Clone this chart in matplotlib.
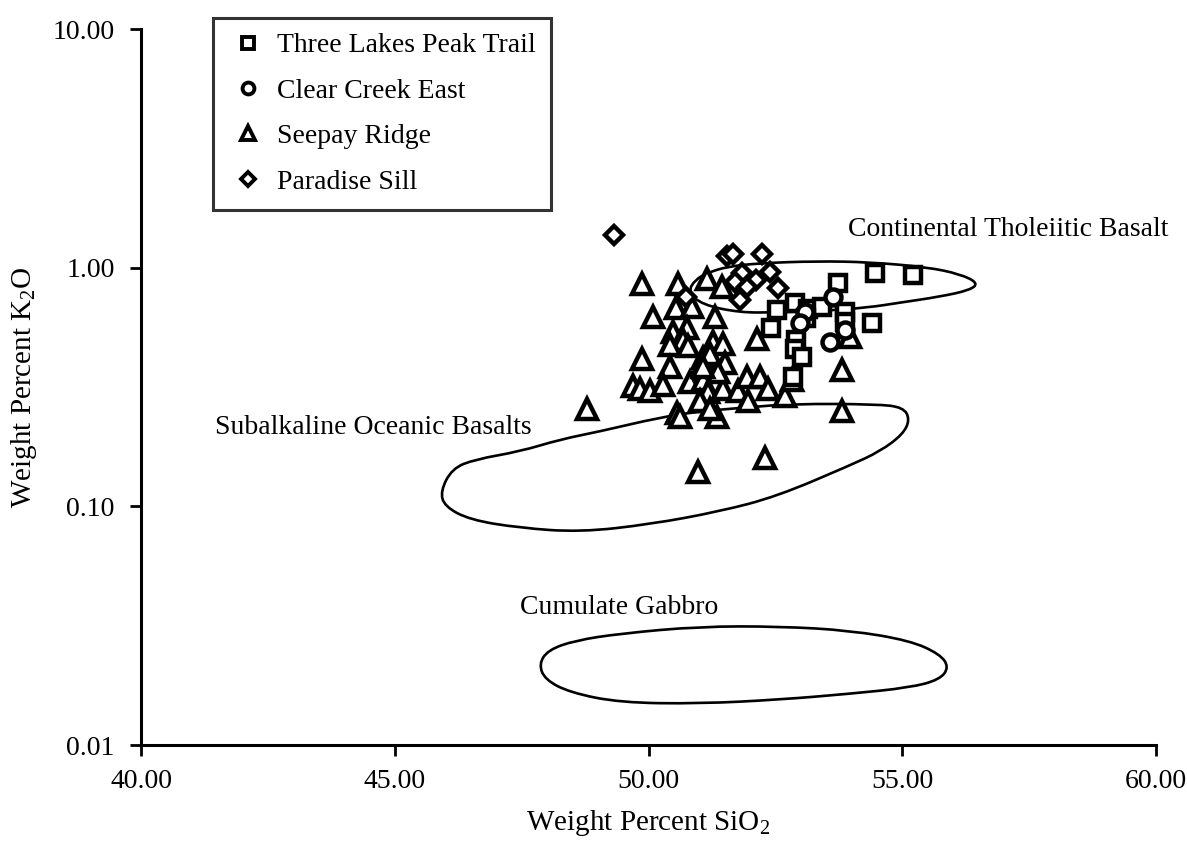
import numpy as np
import matplotlib
matplotlib.use("Agg")
import matplotlib.pyplot as plt
from matplotlib.lines import Line2D
from matplotlib.path import Path
from matplotlib.patches import PathPatch
from matplotlib.ticker import FixedLocator, FormatStrFormatter

plt.rcParams['font.family'] = ['Liberation Serif', 'DejaVu Serif']
plt.rcParams['mathtext.fontset'] = 'custom'
plt.rcParams['mathtext.rm'] = 'Liberation Serif'
plt.rcParams['mathtext.it'] = 'Liberation Serif:italic'

# SiO2 / K2O, weight percent
three_lakes_sio2 = [54.46, 55.21, 53.73, 52.89, 52.53, 53.14, 53.42, 53.87, 53.87, 54.40,
                    52.41, 53.10, 52.91, 52.89, 53.02, 52.85]
three_lakes_k2o = [0.953, 0.935, 0.866, 0.714, 0.667, 0.674, 0.687, 0.654, 0.595, 0.589,
                   0.561, 0.618, 0.500, 0.458, 0.424, 0.350]

clear_creek_sio2 = [53.58, 53.64, 53.08, 52.99, 53.87]
clear_creek_k2o = [0.490, 0.756, 0.654, 0.589, 0.550]

seepay_sio2 = [49.87, 50.58, 51.15, 51.45, 50.09, 50.54, 50.86, 51.31, 50.48, 50.76,
               50.68, 50.42, 50.78, 51.27, 51.47, 49.87, 51.07, 51.21, 51.51, 50.42,
               51.01, 49.69, 49.83, 50.03, 50.29, 50.82, 51.07, 51.17, 51.01, 51.47,
               51.76, 51.94, 52.20, 52.35, 51.96, 52.69, 52.83, 50.56, 50.62, 51.35,
               51.21, 48.79, 53.81, 53.81, 52.30, 50.98, 52.14, 53.97, 51.37, 51.07]
seepay_k2o = [0.857, 0.857, 0.899, 0.833, 0.624, 0.680, 0.687, 0.624, 0.540, 0.561,
              0.500, 0.476, 0.472, 0.490, 0.481, 0.416, 0.420, 0.433, 0.397, 0.385,
              0.374, 0.318, 0.309, 0.303, 0.324, 0.333, 0.340, 0.300, 0.275, 0.309,
              0.303, 0.347, 0.347, 0.309, 0.275, 0.289, 0.340, 0.247, 0.236, 0.236,
              0.255, 0.255, 0.374, 0.250, 0.160, 0.139, 0.504, 0.514, 0.367, 0.385]

paradise_sio2 = [49.32, 51.55, 51.67, 52.24, 51.84, 52.39, 52.55, 52.12, 51.70, 51.94,
                 50.74, 51.80]
paradise_k2o = [1.374, 1.122, 1.144, 1.144, 0.953, 0.962, 0.825, 0.891, 0.874, 0.833,
                0.756, 0.735]

# field outlines (SiO2, K2O)
cont_sio2 = [50.78, 50.92, 51.17, 51.55, 52.20, 53.32, 54.36, 55.49, 56.14, 56.50,
             56.33, 55.74, 54.96, 54.31, 53.38, 52.53, 51.80, 51.05]
cont_k2o = [0.794, 0.891, 0.953, 1.010, 1.045, 1.065, 1.055, 1.005, 0.940, 0.862,
            0.805, 0.756, 0.714, 0.680, 0.658, 0.650, 0.648, 0.700]

ocean_sio2 = [45.90, 46.13, 46.58, 47.47, 48.26, 49.04, 50.23, 51.01, 51.94, 52.85,
              54.50, 55.02, 55.15, 55.01, 54.56, 53.97, 52.53, 51.41, 50.03, 48.65,
              47.47, 46.48, 45.98]
ocean_k2o = [0.1156, 0.1440, 0.1573, 0.1699, 0.1907, 0.2060, 0.236, 0.250, 0.2598, 0.2690,
             0.2680, 0.2600, 0.2312, 0.2001, 0.1699, 0.1485, 0.1101, 0.0953, 0.0841, 0.0780,
             0.0812, 0.0878, 0.1000]

gabbro_sio2 = [47.84, 48.02, 48.55, 49.44, 51.01, 52.59, 53.97, 55.15, 55.74, 55.92,
               55.74, 55.15, 53.97, 52.59, 51.01, 49.44, 48.45, 47.96]
gabbro_k2o = [0.02183, 0.02500, 0.02740, 0.02930, 0.03140, 0.03140, 0.03020, 0.02740, 0.02403, 0.02121,
              0.01880, 0.01740, 0.01640, 0.01550, 0.01490, 0.01505, 0.01660, 0.01880]

y_ticks = [0.01, 0.1, 1, 10]
x_ticks = [40, 45, 50, 55, 60]


def smooth_outline(xs, ys):
    # closed quadratic bezier through the midpoints of the outline vertices
    pts = list(zip(xs, ys))
    n = len(pts)
    mids = [((pts[i][0] + pts[(i + 1) % n][0]) / 2, (pts[i][1] * pts[(i + 1) % n][1]) ** 0.5)
            for i in range(n)]
    verts = [mids[-1]]
    codes = [Path.MOVETO]
    for i in range(n):
        verts += [pts[i], mids[i]]
        codes += [Path.CURVE3, Path.CURVE3]
    return Path(verts, codes)


fig = plt.figure(figsize=(11.87, 8.61), dpi=100)
ax = fig.add_axes([0.1188, 0.1347, 0.8551, 0.8316])

for xs, ys in [(cont_sio2, cont_k2o), (ocean_sio2, ocean_k2o), (gabbro_sio2, gabbro_k2o)]:
    ax.add_patch(PathPatch(smooth_outline(xs, ys), facecolor='none', edgecolor='black', lw=1.9))

mk = dict(linestyle='none', markerfacecolor='white', markeredgecolor='black', markeredgewidth=3.2)
ax.plot(seepay_sio2, seepay_k2o, marker='^', markersize=15, **mk)
ax.plot(paradise_sio2, paradise_k2o, marker='D', markersize=9.5, **mk)
ax.plot(three_lakes_sio2, three_lakes_k2o, marker='s', markersize=11.5, **mk)
ax.plot(clear_creek_sio2, clear_creek_k2o, marker='o', markersize=11.5, **mk)

ax.set_yscale('log')
ax.set_xlim(40, 60)
ax.set_ylim(0.01, 10)
ax.yaxis.set_major_locator(FixedLocator(y_ticks))
ax.yaxis.set_minor_locator(FixedLocator([]))
ax.yaxis.set_major_formatter(FormatStrFormatter('%.2f'))
ax.xaxis.set_major_locator(FixedLocator(x_ticks))
ax.xaxis.set_major_formatter(FormatStrFormatter('%.2f'))

for s in ['top', 'right']:
    ax.spines[s].set_visible(False)
for s in ['left', 'bottom']:
    ax.spines[s].set_linewidth(2.2)
ax.tick_params(axis='both', which='major', direction='out', length=8, width=2, labelsize=20)
ax.tick_params(axis='x', pad=9)
ax.tick_params(axis='y', pad=11)

ax.set_xlabel('Weight Percent SiO$_2$', fontsize=21, labelpad=10)
ax.set_ylabel('Weight Percent K$_2$O', fontsize=21, labelpad=10)

ax.text(53.93, 1.44, 'Continental Tholeiitic Basalt', fontsize=20, va='center', ha='left')
ax.text(41.46, 0.214, 'Subalkaline Oceanic Basalts', fontsize=20, va='center', ha='left')
ax.text(47.47, 0.0378, 'Cumulate Gabbro', fontsize=20, va='center', ha='left')

lk = dict(linestyle='none', markerfacecolor='white', markeredgecolor='black', markeredgewidth=2.8)
handles = [Line2D([], [], marker='s', markersize=8.5, **lk),
           Line2D([], [], marker='o', markersize=8.5, **lk),
           Line2D([], [], marker='^', markersize=10, **lk),
           Line2D([], [], marker='D', markersize=7, **lk)]
labels = ['Three Lakes Peak Trail', 'Clear Creek East', 'Seepay Ridge', 'Paradise Sill']
leg = ax.legend(handles, labels, loc='upper left', bbox_to_anchor=(0.071, 1.016),
                fontsize=20, frameon=True, fancybox=False, edgecolor='black',
                handlelength=1.45, handletextpad=0.3, labelspacing=0.72,
                borderpad=0.55, borderaxespad=0)
leg.get_frame().set_linewidth(2.2)

fig.savefig('out.png', dpi=100)
